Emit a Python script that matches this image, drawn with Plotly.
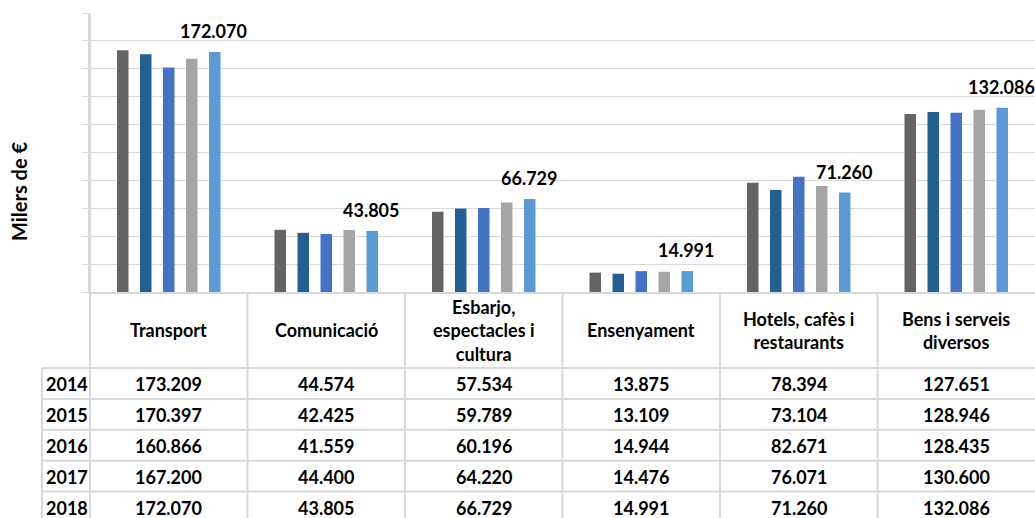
import plotly.graph_objects as go

# ----------------------------
# DATA
# ----------------------------
categories = ["Transport", "Comunicació", "Esbarjo, espectacles i cultura",
              "Ensenyament", "Hotels, cafès i restaurants", "Bens i serveis diversos"]
header_labels = ["Transport", "Comunicació", "Esbarjo,<br>espectacles i<br>cultura",
                 "Ensenyament", "Hotels, cafès i<br>restaurants", "Bens i serveis<br>diversos"]
years = ["2014", "2015", "2016", "2017", "2018"]

v2014 = [173.209, 44.574, 57.534, 13.875, 78.394, 127.651]
v2015 = [170.397, 42.425, 59.789, 13.109, 73.104, 128.946]
v2016 = [160.866, 41.559, 60.196, 14.944, 82.671, 128.435]
v2017 = [167.200, 44.400, 64.220, 14.476, 76.071, 130.600]
v2018 = [172.070, 43.805, 66.729, 14.991, 71.260, 132.086]
series = [v2014, v2015, v2016, v2017, v2018]

colors = ["#646464", "#255e91", "#4472c4", "#a5a5a5", "#5b9bd5"]

# ----------------------------
# LAYOUT (pixels)
# ----------------------------
W, H = 1035, 518
M_L, M_T = 90, 13
PLOT_BOTTOM = 292
PLOT_H = PLOT_BOTTOM - M_T
PLOT_W = W - M_L
BARGAP = 0.27
GRID = "#d9d9d9"
FONT = "Lato"
FS = 18

ROW_TOP = 368
ROW_H = 30.9


def py(p):
    # pixel y -> paper y
    return (PLOT_BOTTOM - p) / PLOT_H


def px_(p):
    # pixel x -> paper x
    return (p - M_L) / PLOT_W


def fmt(v):
    return f"{v:.3f}"


fig = go.Figure()

for yr, vals, col in zip(years, series, colors):
    fig.add_trace(go.Bar(
        x=categories,
        y=vals,
        name=yr,
        marker=dict(color=col, line=dict(width=0)),
        hoverinfo="x+y+name"
    ))

# ----------------------------
# DATA LABELS (2018 only)
# ----------------------------
cat_w = PLOT_W / len(categories)
slot = (1 - BARGAP) * cat_w / len(years)
annotations = []
for c, v in zip(categories, v2018):
    annotations.append(dict(
        x=c, y=v, xref="x", yref="y",
        text=fmt(v), showarrow=False,
        xshift=2 * slot - 1, yshift=8, yanchor="bottom",
        font=dict(family=FONT, size=FS, color="#000000", weight="bold")
    ))

# y axis title
annotations.append(dict(
    x=px_(19), y=py(192), xref="paper", yref="paper",
    text="<b>Milers de €</b>", textangle=-90, showarrow=False,
    xanchor="center", yanchor="middle",
    font=dict(family=FONT, size=20, color="#000000")
))

# ----------------------------
# TABLE
# ----------------------------
shapes = []
line = dict(color=GRID, width=2)
bottom = py(H + 5)

# vertical lines: plot left edge and category boundaries
for i in range(len(categories)):
    shapes.append(dict(type="line", xref="x", yref="paper",
                       x0=i - 0.5, x1=i - 0.5, y0=0, y1=bottom, line=line))
shapes.append(dict(type="line", xref="paper", yref="paper",
                   x0=0, x1=0, y0=1, y1=bottom, line=line))
# year column left edge
shapes.append(dict(type="line", xref="paper", yref="paper",
                   x0=px_(42), x1=px_(42), y0=py(ROW_TOP), y1=bottom, line=line))
# horizontal lines
for r in range(len(years)):
    yl = py(ROW_TOP + r * ROW_H)
    shapes.append(dict(type="line", xref="paper", yref="paper",
                       x0=px_(42), x1=1, y0=yl, y1=yl, line=line))

# header labels
for c, lab in zip(categories, header_labels):
    annotations.append(dict(
        x=c, y=py((PLOT_BOTTOM + ROW_TOP) / 2), xref="x", yref="paper",
        text=lab, showarrow=False, yanchor="middle",
        font=dict(family=FONT, size=FS, color="#000000", weight="bold")
    ))

# rows
for r, (yr, vals) in enumerate(zip(years, series)):
    yc = py(ROW_TOP + r * ROW_H + ROW_H / 2 + 1)
    annotations.append(dict(
        x=px_(44), y=yc, xref="paper", yref="paper",
        text=yr, showarrow=False, xanchor="left", yanchor="middle",
        font=dict(family=FONT, size=FS, color="#000000", weight="bold")
    ))
    for c, v in zip(categories, vals):
        annotations.append(dict(
            x=c, y=yc, xref="x", yref="paper",
            text=fmt(v), showarrow=False, yanchor="middle",
            font=dict(family=FONT, size=FS, color="#000000", weight="bold")
        ))

fig.update_layout(
    width=W,
    height=H,
    margin=dict(l=M_L, r=0, t=M_T, b=H - PLOT_BOTTOM, pad=0),
    paper_bgcolor="#ffffff",
    plot_bgcolor="#ffffff",
    barmode="group",
    bargap=BARGAP,
    bargroupgap=0.5,
    showlegend=False,
    font=dict(family=FONT, color="#000000"),
    xaxis=dict(
        showticklabels=False,
        showgrid=False,
        showline=True,
        linecolor=GRID,
        linewidth=2,
        ticks="",
        range=[-0.5, len(categories) - 0.5]
    ),
    yaxis=dict(
        range=[0, 200],
        dtick=20,
        showticklabels=False,
        showgrid=True,
        gridcolor=GRID,
        gridwidth=1,
        zeroline=False,
        showline=True,
        linecolor=GRID,
        linewidth=2,
        ticks="outside",
        ticklen=6,
        tickcolor=GRID
    ),
    shapes=shapes,
    annotations=annotations
)

# page body margin off so the figure fills the window
fig.write_html(
    "out.html",
    config={"displayModeBar": False},
    post_script="document.body.style.margin='0';document.body.style.overflow='hidden';"
)
